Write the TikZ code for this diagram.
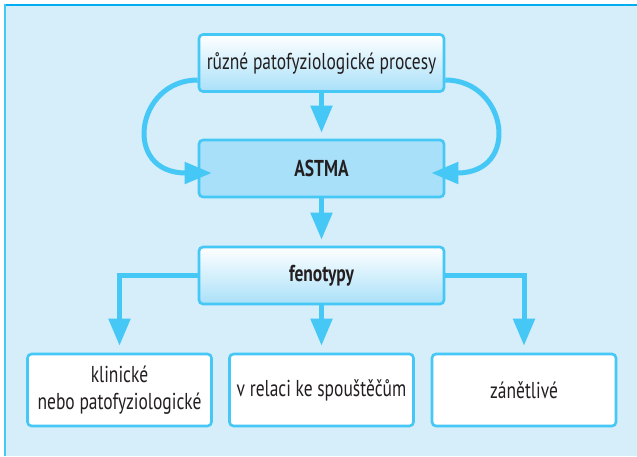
\documentclass[tikz,border=0pt]{standalone}
\usepackage{fontspec}
\setmainfont{PT Sans}[FakeStretch=0.76]
\usetikzlibrary{arrows.meta,calc}
\definecolor{bgc}{HTML}{D6EDFA}
\definecolor{linec}{HTML}{45C8F5}
\definecolor{framec}{HTML}{00AEEF}
\definecolor{boxc}{HTML}{A9E0F9}
\definecolor{txtc}{HTML}{231F20}
\tikzset{
  box/.style={draw=linec, line width=2.6pt, rounded corners=4pt, minimum width=245pt, minimum height=57pt, inner sep=0pt, align=center, text=txtc, font=\fontsize{23}{27}\selectfont},
  gradbox/.style={box, top color=white, bottom color=boxc},
  leaf/.style={box, fill=white, minimum width=184pt, minimum height=72pt},
  conn/.style={draw=linec, line width=5pt, -{Triangle[width=21pt,length=27pt]}},
}
\begin{document}
\begin{tikzpicture}[x=1pt,y=-1pt]
\useasboundingbox (0,0) rectangle (637,456);
\fill[bgc] (4,4) rectangle (637,456);
\draw[framec, line width=2pt] (4,5) -- (637,5);
\draw[linec, line width=2pt] (5,4) -- (5,456);
\node[gradbox] (top) at (321.5,63) {různé patofyziologické procesy};
\node[box, fill=boxc] (astma) at (321.5,168.5) {\bfseries ASTMA};
\node[gradbox] (fen) at (321.5,275.5) {\bfseries fenotypy};
\node[leaf] (b1) at (119.5,390) {klinické\\nebo patofyziologické};
\node[leaf] (b2) at (321.5,390) {v relaci ke spouštěčům};
\node[leaf] (b3) at (524,390) {zánětlivé};
\draw[conn, shorten >=6pt] (top.south) -- (astma.north);
\draw[conn, shorten >=6pt] (astma.south) -- (fen.north);
\draw[conn, shorten >=-14pt] ($(top.west)+(0,17)$) .. controls +(-62,0) and +(-76,0) .. ($(astma.west)+(0,4.5)$);
\draw[conn, shorten >=-14pt] ($(top.east)+(0,17)$) .. controls +(62,0) and +(76,0) .. ($(astma.east)+(0,4.5)$);
\draw[conn, shorten >=7pt] (fen.west) -| (b1.north);
\draw[conn, shorten >=7pt] (fen.south) -- (fen.south |- b2.north);
\draw[conn, shorten >=7pt] (fen.east) -| (b3.north);
\end{tikzpicture}
\end{document}
